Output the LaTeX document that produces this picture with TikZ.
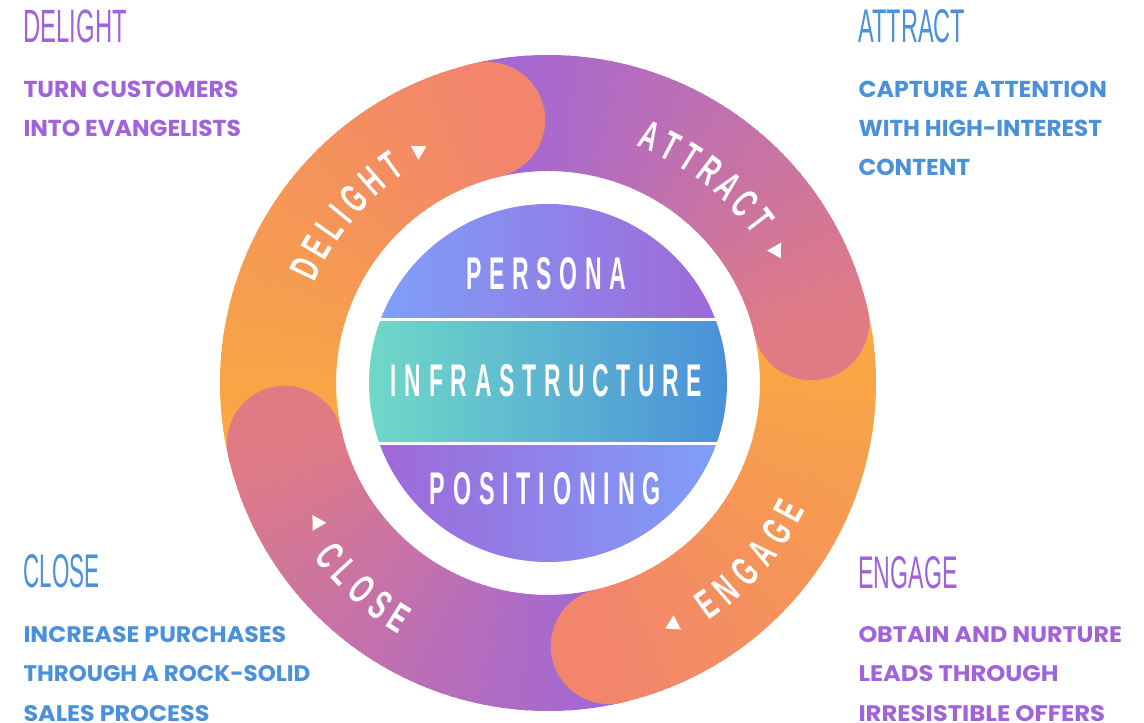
\documentclass[tikz,border=0pt]{standalone}
\usepackage{fontspec}
\usepackage{graphicx}
\setmainfont{Liberation Sans}
\newfontfamily\headfont[FakeStretch=0.56]{Liberation Sans}
\newfontfamily\condfont[FakeStretch=0.6]{Liberation Sans Bold}
\newfontfamily\bodyfont{Poppins}

\definecolor{txtpurple}{HTML}{A063DA}
\definecolor{txtblue}{HTML}{4A90DB}
\definecolor{ringorange}{HTML}{F9AA40}
\definecolor{ringsalmon}{HTML}{F2856C}
\definecolor{ringpurple}{HTML}{A066D8}
\definecolor{ringpink}{HTML}{E07B85}
\definecolor{diskblue}{HTML}{7DA1FB}
\definecolor{diskpurple}{HTML}{A066D8}
\definecolor{diskteal}{HTML}{6FD9C8}
\definecolor{diskdeep}{HTML}{4A90D9}

\newdimen\spkern
\spkern=9pt
\def\spacedend{\relax}
\def\spacedA#1#2{#1\ifx#2\spacedend\else\kern\spkern\expandafter\spacedA\expandafter#2\fi}
\newcommand\spaced[1]{\spacedA#1\spacedend}
\newcommand\fitbox[3]{\resizebox{#1pt}{#2pt}{#3}}

\newcommand\ringseg[4]{%
  \foreach \k in {0,...,59}{%
    \pgfmathsetmacro\segA{#1-\k*1.5}%
    \pgfmathsetmacro\segB{max(#1-(\k+1)*1.5-0.4,#2)}%
    \pgfmathsetmacro\segP{\k*100/59}%
    \fill[#4!\segP!#3] (\segA:328) arc[start angle=\segA, end angle=\segB, radius=328]
      -- (\segB:212) arc[start angle=\segB, end angle=\segA, radius=212] -- cycle;
  }}
% rounded head, with a small overlap backwards to hide the seam
\newcommand\ringcap[2]{\fill[#2] (#1+1.2:328) arc[start angle=#1+1.2, end angle=#1, radius=328]
   arc[start angle=#1, end angle=#1-180, radius=58]
   arc[start angle=#1, end angle=#1+1.2, radius=212] -- cycle;}
\newcommand\tricw[2]{\begin{scope}[shift={(#1:#2)}, rotate=#1-90]\fill[white] (7.5,0) -- (-6,8) -- (-6,-8) -- cycle;\end{scope}}
\newcommand\triccw[2]{\begin{scope}[shift={(#1:#2)}, rotate=#1+90]\fill[white] (-7.5,0) -- (6,8) -- (6,-8) -- cycle;\end{scope}}

\tikzset{
  ringletter/.style={inner sep=0pt, text=white, font=\condfont\fontsize{41}{41}\selectfont},
  centertxt/.style={inner sep=0pt, text=white, font=\condfont\fontsize{44.7}{44.7}\selectfont},
  headtxt/.style={inner sep=0pt, anchor=south west, font=\headfont\fontsize{43}{43}\selectfont},
  bodytxt/.style={inner sep=0pt, anchor=south west, font=\bodyfont\bfseries\fontsize{22}{22}\selectfont},
}

\begin{document}
\begin{tikzpicture}[x=1pt,y=1pt]
\useasboundingbox (0,0) rectangle (1144,723);
\fill[white] (0,0) rectangle (1144,723);

\begin{scope}[shift={(548,340)}]
  % ring bodies
  \ringseg{193}{103}{ringorange}{ringsalmon}
  \ringseg{103}{13}{ringpurple}{ringpink}
  \ringseg{13}{-77}{ringorange}{ringsalmon}
  \ringseg{-77}{-167}{ringpurple}{ringpink}
  % rounded heads
  \ringcap{103}{ringsalmon}
  \ringcap{13}{ringpink}
  \ringcap{-77}{ringsalmon}
  \ringcap{-167}{ringpink}

  % central disk
  \begin{scope}
    \clip (0,0) circle (179);
    \shade[left color=diskblue, right color=diskpurple] (-180,65) rectangle (180,180);
    \shade[left color=diskteal, right color=diskdeep] (-180,-59) rectangle (180,61);
    \shade[left color=diskpurple, right color=diskblue] (-180,-180) rectangle (180,-63);
  \end{scope}
  \node[centertxt] (persona) at (-1.5,109) {\fitbox{160}{32}{\spaced{PERSONA}}};
  \node[centertxt] (infra) at (-1.4,2) {\fitbox{311.4}{32}{\spaced{INFRASTRUCTURE}}};
  \node[centertxt] (posit) at (-2.7,-106) {\fitbox{231.3}{32}{\spaced{POSITIONING}}};

  % ring labels
  \foreach \ch/\ang [count=\i] in {D/154.7, E/149.61, L/144.84, I/140.83, G/136.49, H/131.08, T/125.9}
    \node[ringletter, rotate=\ang-90] (dl\i) at (\ang:268) {\ch};
  \tricw{118.8}{266}
  \foreach \ch/\ang [count=\i] in {A/67.6, T/62.57, T/57.75, R/52.72, A/47.47, C/42.33, T/37.4}
    \node[ringletter, rotate=\ang-90] (at\i) at (\ang:267) {\ch};
  \tricw{29.8}{264}
  \foreach \ch/\ang [count=\i] in {C/218.3, L/223.05, O/227.9, S/232.95, E/237.7}
    \node[ringletter, rotate=\ang+90] (cl\i) at (\ang:278) {\ch};
  \triccw{210.9}{270}
  \foreach \ch/\ang [count=\i] in {E/-54.3, N/-49.22, G/-43.83, A/-38.43, G/-33.04, E/-27.96}
    \node[ringletter, rotate=\ang+90] (en\i) at (\ang:273) {\ch};
  \triccw{-62.9}{272}
\end{scope}

% headings
\node[headtxt, text=txtpurple] (hdelight) at (23.3,679.7) {\fitbox{103.4}{32.6}{DELIGHT}};
\node[headtxt, text=txtblue] (hattract) at (858.3,680) {\fitbox{106.7}{33}{ATTRACT}};
\node[headtxt, text=txtblue] (hclose) at (23.3,135) {\fitbox{76}{33}{CLOSE}};
\node[headtxt, text=txtpurple] (hengage) at (858.3,134) {\fitbox{99}{32}{ENGAGE}};

% body texts
\node[bodytxt, text=txtpurple] (d1) at (23.3,624.7) {\fitbox{215}{16.4}{TURN CUSTOMERS}};
\node[bodytxt, text=txtpurple] (d2) at (23.3,585.7) {\fitbox{217.4}{16.4}{INTO EVANGELISTS}};
\node[bodytxt, text=txtblue] (a1) at (858.3,625) {\fitbox{248.4}{16.4}{CAPTURE ATTENTION}};
\node[bodytxt, text=txtblue] (a2) at (858.3,586) {\fitbox{243.4}{16.4}{WITH HIGH-INTEREST}};
\node[bodytxt, text=txtblue] (a3) at (858.3,547) {\fitbox{111.7}{16.4}{CONTENT}};
\node[bodytxt, text=txtblue] (c1) at (23.3,80) {\fitbox{262.7}{16}{INCREASE PURCHASES}};
\node[bodytxt, text=txtblue] (c2) at (23.3,41) {\fitbox{286.7}{16}{THROUGH A ROCK-SOLID}};
\node[bodytxt, text=txtblue] (c3) at (23.3,1.5) {\fitbox{186}{16}{SALES PROCESS}};
\node[bodytxt, text=txtpurple] (e1) at (858.3,80) {\fitbox{263.4}{16}{OBTAIN AND NURTURE}};
\node[bodytxt, text=txtpurple] (e2) at (858.3,41) {\fitbox{200}{16}{LEADS THROUGH}};
\node[bodytxt, text=txtpurple] (e3) at (858.3,1.5) {\fitbox{246.7}{16}{IRRESISTIBLE OFFERS}};
\end{tikzpicture}
\end{document}
